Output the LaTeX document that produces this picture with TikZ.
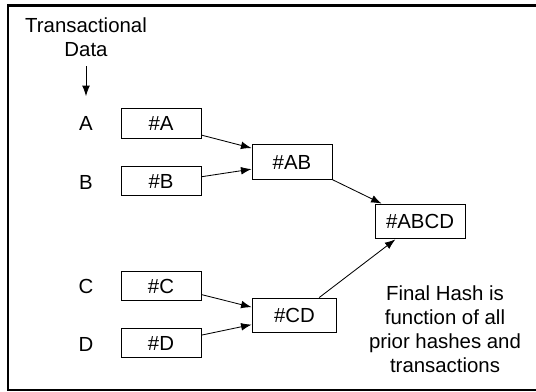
\documentclass[tikz,border=0pt]{standalone}
\usepackage{fontspec}
\setmainfont{Liberation Sans}
\usetikzlibrary{arrows.meta,positioning}

\begin{document}
\begin{tikzpicture}[x=0.025cm, y=-0.025cm,
font=\fontsize{14.5}{17}\selectfont,
hashbox/.style = {draw, line width=0.7pt, inner sep=0pt},
edge/.style = {->, > = {Latex[length=7.5pt, width=5.5pt]}, line width=0.6pt}]

\useasboundingbox (0,0) rectangle (536,392);
\draw[line width=1.6pt] (536,5.5) -- (8,5.5) -- (8,390) -- (536,390);

\node[align=center] (td) at (86,37) {Transactional\\Data};

\node (lA) at (86,123) {A};
\node (lB) at (86,182) {B};
\node (lC) at (86,286) {C};
\node (lD) at (86,344) {D};

\node[hashbox, minimum width=2cm, minimum height=0.73cm] (hA) at (161,123.5) {\#A};
\node[hashbox, minimum width=2cm, minimum height=0.73cm] (hB) at (161,181) {\#B};
\node[hashbox, minimum width=2cm, minimum height=0.73cm] (hC) at (161,286) {\#C};
\node[hashbox, minimum width=2cm, minimum height=0.73cm] (hD) at (161,343) {\#D};

\node[hashbox, minimum width=2cm, minimum height=0.86cm] (hAB) at (292,162) {\#AB};
\node[hashbox, minimum width=2.12cm, minimum height=0.87cm] (hCD) at (294.5,315.5) {\#CD};
\node[hashbox, minimum width=2.25cm, minimum height=0.87cm] (hABCD) at (420,221.5) {\#ABCD};

\node[align=center] (final) at (445,329) {Final Hash is\\function of all\\prior hashes and\\transactions};

\draw[edge, shorten <=0.12cm, shorten >=0.37cm] (td) -- (lA);

\draw[edge] (hA.-16) -- (hAB.161);
\draw[edge] (hB.6) -- (hAB.190);
\draw[edge] (hC.-12) -- (hCD.169);
\draw[edge] (hD.11) -- (hCD.192);

\draw[edge] (hAB.south east) -- (hABCD.155);
\draw[edge] (hCD.36) -- (hABCD.216);

\end{tikzpicture}
\end{document}
